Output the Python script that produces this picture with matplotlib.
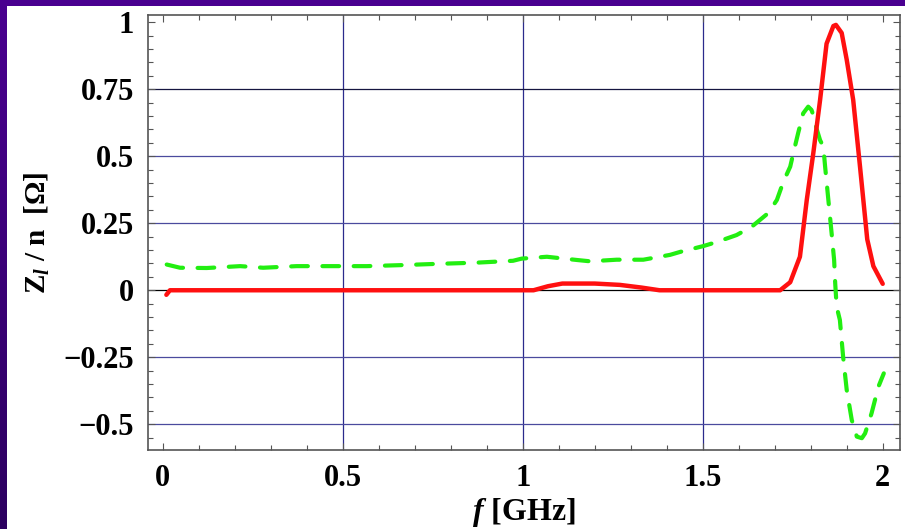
import matplotlib
matplotlib.use("Agg")
import matplotlib.pyplot as plt
import numpy as np
from matplotlib.ticker import FixedLocator, MultipleLocator
from matplotlib.patches import Rectangle
from matplotlib.colors import LinearSegmentedColormap

plt.rcParams['font.family'] = ['Liberation Serif', 'DejaVu Serif']
plt.rcParams['font.weight'] = 'bold'
plt.rcParams['mathtext.fontset'] = 'custom'
plt.rcParams['mathtext.rm'] = 'Liberation Serif:bold'
plt.rcParams['mathtext.it'] = 'Liberation Serif:italic:bold'
plt.rcParams['mathtext.bf'] = 'Liberation Serif:bold'

# ---- data ----
red_f = [0.01, 0.02, 0.1, 0.5, 1.0, 1.03, 1.07, 1.11, 1.2, 1.27, 1.33, 1.38, 1.5,
         1.715, 1.743, 1.77, 1.789, 1.807, 1.826, 1.844, 1.863, 1.870, 1.886, 1.9,
         1.918, 1.937, 1.957, 1.974, 2.0]
red_z = [-0.017, 0.0, 0.0, 0.0, 0.0, 0.0, 0.015, 0.025, 0.025, 0.02, 0.01, 0.0, 0.0,
         0.0, 0.03, 0.125, 0.337, 0.51, 0.71, 0.92, 0.986, 0.99, 0.96, 0.86,
         0.71, 0.46, 0.19, 0.09, 0.024]

green_f = [0.011, 0.048, 0.122, 0.215, 0.279, 0.372, 0.473, 0.567, 0.668, 0.751,
           0.872, 0.973, 0.997, 1.067, 1.15, 1.187, 1.261, 1.335, 1.409, 1.437,
           1.502, 1.539, 1.594, 1.636, 1.682, 1.706, 1.724, 1.743, 1.756, 1.765,
           1.779, 1.793, 1.802, 1.807, 1.816, 1.826, 1.835, 1.84, 1.849, 1.858,
           1.865, 1.868, 1.872, 1.881, 1.89, 1.9, 1.914, 1.928, 1.942, 1.951,
           1.969, 1.988, 2.003]
green_z = [0.096, 0.084, 0.083, 0.09, 0.084, 0.09, 0.09, 0.09, 0.094, 0.098,
           0.103, 0.11, 0.118, 0.125, 0.113, 0.108, 0.114, 0.114, 0.132, 0.143,
           0.165, 0.18, 0.206, 0.237, 0.288, 0.337, 0.405, 0.461, 0.536, 0.586,
           0.66, 0.685, 0.673, 0.654, 0.604, 0.56, 0.536, 0.461, 0.337, 0.213,
           0.113, 0.026, -0.061, -0.111, -0.248, -0.372, -0.484, -0.546, -0.552, -0.534,
           -0.459, -0.36, -0.31]

x_ticks = [0, 0.5, 1, 1.5, 2]
x_ticklabels = ["0", "0.5", "1", "1.5", "2"]
y_ticks = [-0.5, -0.25, 0, 0.25, 0.5, 0.75, 1]
y_ticklabels = ["\u22120.5", "\u22120.25", "0", "0.25", "0.5", "0.75", "1"]
x_grid = [0.5, 1.0, 1.5]
y_grid = [-0.5, -0.25, 0.25, 0.5]

# ---- figure ----
fig = plt.figure(figsize=(9.05, 5.29), dpi=100, facecolor='white')

W, H = 905, 529
fig.patches.append(Rectangle((0, 1 - 6 / H), 1, 6 / H, transform=fig.transFigure,
                             facecolor='#4a0090', edgecolor='none', zorder=0))
band = fig.add_axes([0, 0, 6 / W, 1])
grad = np.linspace(0, 1, 256).reshape(-1, 1)
cmap = LinearSegmentedColormap.from_list('pur', ['#2c0060', '#4a0090'])
band.imshow(grad, aspect='auto', cmap=cmap, origin='lower', extent=[0, 1, 0, 1])
band.set_axis_off()

ax = fig.add_axes([148 / W, 1 - 450 / H, (900 - 148) / W, (450 - 15) / H])
ax.set_xlim(-0.041, 2.048)
ax.set_ylim(-0.596, 1.027)

for xv in x_grid:
    ax.axvline(xv, color='#2b2b8c', lw=0.9, zorder=1)
for yv in y_grid:
    ax.axhline(yv, color='#4a4a9e', lw=0.9, zorder=1)
ax.axhline(0.75, color='#151540', lw=0.9, zorder=1)
ax.axhline(0, color='black', lw=0.9, zorder=1)

ax.plot(green_f, green_z, color='#22ee11', lw=3.0,
        linestyle=(0, (4.0, 3.5)), dash_capstyle='round', solid_capstyle='round', zorder=3)
ax.plot(red_f, red_z, color='#ff1010', lw=3.2, solid_capstyle='round',
        solid_joinstyle='round', zorder=4)

ax.xaxis.set_major_locator(FixedLocator(x_ticks))
ax.set_xticklabels(x_ticklabels)
ax.xaxis.set_minor_locator(MultipleLocator(0.1))
ax.yaxis.set_major_locator(FixedLocator(y_ticks))
ax.set_yticklabels(y_ticklabels)
ax.yaxis.set_minor_locator(MultipleLocator(0.05))

ax.tick_params(which='both', direction='in', top=True, right=True,
               color='#555555', width=0.8)
ax.tick_params(which='major', length=5, labelsize=22, pad=10)
ax.tick_params(which='minor', length=3.5)
for lab in ax.get_xticklabels() + ax.get_yticklabels():
    lab.set_fontweight('bold')
for s in ax.spines.values():
    s.set_color('#555555')
    s.set_linewidth(1.2)

ax.set_xlabel(r'$\mathit{f}$ [GHz]', fontsize=23, fontweight='bold', labelpad=2)
ax.set_ylabel(r'$\mathrm{Z}_{\mathit{l}}$ / n  [$\Omega$]', fontsize=21,
              fontweight='bold', labelpad=8)

fig.savefig('out.png', dpi=100, facecolor='white')
